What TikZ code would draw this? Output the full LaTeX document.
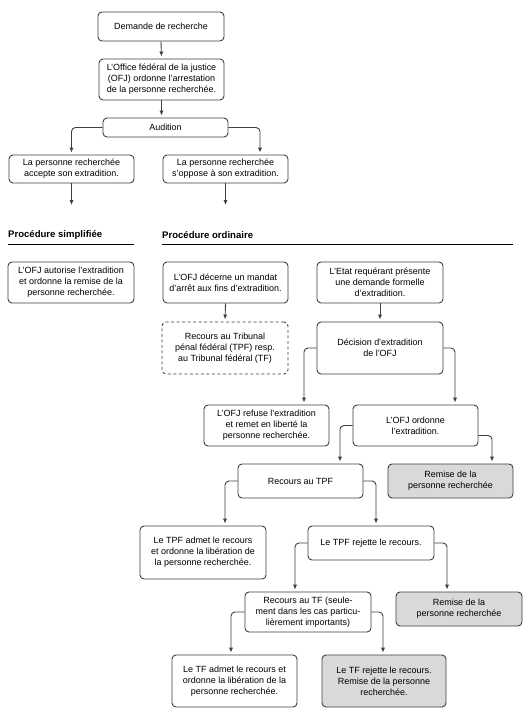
\documentclass[tikz,border=0pt]{standalone}
\usepackage{fontspec}
\setmainfont{Liberation Sans}
\usetikzlibrary{arrows.meta,calc}
\definecolor{edgec}{HTML}{3F3F3F}
\definecolor{greyfill}{HTML}{D9D9D9}
\tikzset{
  box/.style={draw=edgec, line width=0.9bp, rounded corners=4bp, fill=white,
    align=center, inner sep=1bp, font=\fontsize{9}{11}\selectfont, text=black},
  greybox/.style={box, fill=greyfill},
  dashbox/.style={box, dashed, dash pattern=on 3bp off 2.5bp},
  conn/.style={draw=edgec, line width=0.9bp, rounded corners=4bp,
    -{Latex[length=5bp,width=4.2bp]}, shorten >=2bp},
  heading/.style={anchor=west, inner sep=0pt, font=\fontsize{9.6}{11}\selectfont\bfseries},
  rule/.style={draw=black, line width=0.9bp}
}
\begin{document}
\begin{tikzpicture}[x=1bp,y=-1bp]
\useasboundingbox (0,0) rectangle (525,725);
% nodes
\node[box, minimum width=126bp, minimum height=29bp] (n1) at (161,26.5) {Demande de recherche};
\node[box, minimum width=125bp, minimum height=41bp] (n2) at (161.5,79.5) {L’Office fédéral de la justice\\(OFJ) ordonne l’arrestation\\de la personne recherchée.};
\node[box, minimum width=125bp, minimum height=19bp] (aud) at (165.5,127.5) {Audition};
\node[box, minimum width=125bp, minimum height=28bp] (acc) at (71.5,169) {La personne recherchée\\accepte son extradition.};
\node[box, minimum width=125bp, minimum height=28bp] (opp) at (225.5,169) {La personne recherchée\\s’oppose à son extradition.};
\coordinate (e1) at (71.5,207);
% headings
\node[heading] (h1) at (8,235) {Procédure simplifiée};
\node[heading] (h2) at (162,235) {Procédure ordinaire};
\coordinate (r1a) at (8,244); \coordinate (r1b) at (134,244);
\coordinate (r2a) at (162,244); \coordinate (r2b) at (513,244);
\draw[rule] (r1a) -- (r1b);
\draw[rule] (r2a) -- (r2b);
\node[box, minimum width=126bp, minimum height=41bp] (aut) at (71,282.5) {L’OFJ autorise l’extradition\\et ordonne la remise de la\\personne recherchée.};
\node[box, minimum width=125bp, minimum height=41bp] (dec) at (225.5,282.5) {L’OFJ décerne un mandat\\d’arrêt aux fins d’extradition.};
\node[box, minimum width=126bp, minimum height=41bp] (etat) at (380,282.5) {L’Etat requérant présente\\une demande formelle\\d’extradition.};
\node[dashbox, minimum width=126bp, minimum height=52bp] (rec) at (225,348) {Recours au Tribunal\\pénal fédéral (TPF) resp.\\au Tribunal fédéral (TF)};
\node[box, minimum width=126bp, minimum height=52bp] (decis) at (380,348) {Décision d’extradition\\de l’OFJ};
\node[box, minimum width=125bp, minimum height=41bp] (refuse) at (266.5,425.5) {L’OFJ refuse l’extradition\\et remet en liberté la\\personne recherchée.};
\node[box, minimum width=125bp, minimum height=41bp] (ord) at (415.5,425.5) {L’OFJ ordonne\\l’extradition.};
\node[box, minimum width=125bp, minimum height=34bp] (rtpf) at (300.5,481) {Recours au TPF};
\node[greybox, minimum width=125bp, minimum height=34bp] (rem1) at (450.5,481) {Remise de la\\personne recherchée};
\node[box, minimum width=126bp, minimum height=53bp] (tpfadm) at (203,552.5) {Le TPF admet le recours\\et ordonne la libération de\\la personne recherchée.};
\node[box, minimum width=126bp, minimum height=34bp] (tpfrej) at (371,543) {Le TPF rejette le recours.};
\node[box, minimum width=126bp, minimum height=40bp] (rtf) at (308,612) {Recours au TF (seule-\\ment dans les cas particu-\\lièrement importants)};
\node[greybox, minimum width=126bp, minimum height=34bp] (rem2) at (459,609) {Remise de la\\personne recherchée};
\node[box, minimum width=125bp, minimum height=52bp] (tfadm) at (234.5,681) {Le TF admet le recours et\\ordonne la libération de la\\personne recherchée.};
\node[greybox, minimum width=124bp, minimum height=52bp] (tfrej) at (384,681) {Le TF rejette le recours.\\Remise de la personne\\recherchée.};
% connectors
\draw[conn] (n1.south) -- (n2.north);
\draw[conn] (n2.south) -- (n2.south |- aud.north);
\draw[conn] (aud.west) -| (acc.north);
\draw[conn] (aud.east) -| ([xshift=34.5bp]opp.north);
\draw[conn] (acc.south) -- (acc.south |- e1);
\draw[conn] (opp.south) -- (opp.south |- e1);
\draw[conn] (dec.south) -- (rec.north);
\draw[conn] (etat.south) -- (decis.north);
\draw[conn] (decis.west) -| ([xshift=37.5bp]refuse.north);
\draw[conn] (decis.east) -| ([xshift=39.5bp]ord.north);
\draw[conn] (ord.west) -| ([xshift=39.5bp]rtpf.north);
\draw[conn] ([yshift=-10bp]ord.east) -| ([xshift=41.5bp]rem1.north);
\draw[conn] (rtpf.west) -| ([xshift=22bp]tpfadm.north);
\draw[conn] (rtpf.east) -| ([xshift=5bp]tpfrej.north);
\draw[conn] (tpfrej.west) -| ([xshift=-13bp]rtf.north);
\draw[conn] (tpfrej.east) -| ([xshift=-12bp]rem2.north);
\draw[conn] (rtf.west) -| ([xshift=-3.5bp]tfadm.north);
\draw[conn] (rtf.east) -| ([xshift=-1bp]tfrej.north);
\end{tikzpicture}
\end{document}
